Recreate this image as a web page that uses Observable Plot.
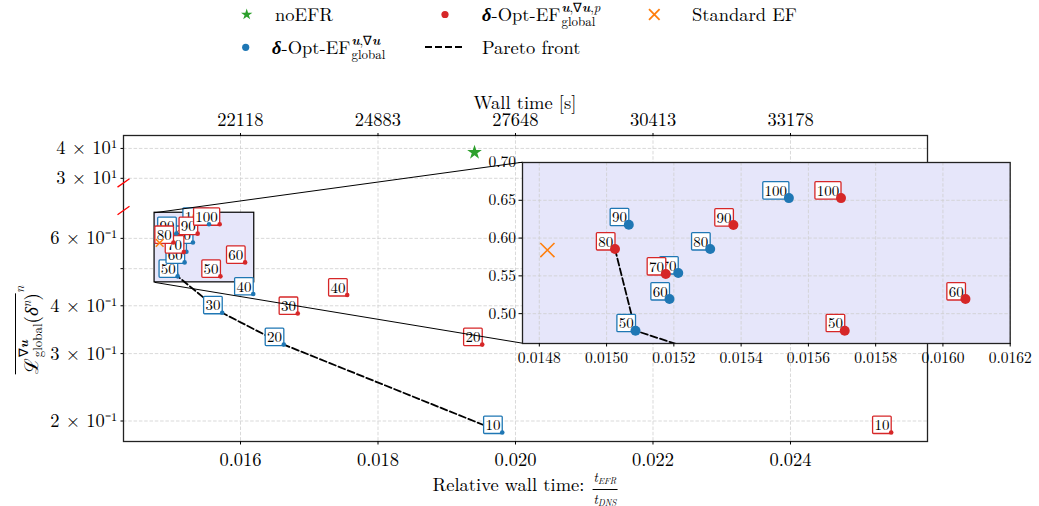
<!DOCTYPE html>
<html><head><meta charset="utf-8">
<script src="https://cdn.jsdelivr.net/npm/d3@7"></script>
<script src="https://cdn.jsdelivr.net/npm/@observablehq/plot@0.6"></script>
<style>
html,body{margin:0;padding:0;background:#fff;}
#wrap{position:relative;width:1039px;height:506px;overflow:hidden;font-family:"Latin Modern Roman","CMU Serif","Liberation Serif",serif;color:#000;}
#wrap > svg{position:absolute;}
.t{position:absolute;white-space:nowrap;line-height:24px;}
.ss{display:inline-flex;flex-direction:column;font-size:13px;line-height:14px;margin:-20px 0 -20px 1px;vertical-align:9.5px;}
.fr{display:inline-flex;flex-direction:column;align-items:center;font-size:13px;line-height:13px;margin:-20px 0 -20px 2px;vertical-align:9px;}
.fr > span:first-child{border-bottom:0.8px solid #000;padding:0 1px 2px 1px;}
.fr > span:last-child{padding-top:2px;}
.fr sub{font-size:9px;vertical-align:-2px;font-style:italic;}
.ov{border-top:1px solid #000;padding-top:1px;}
</style></head>
<body><div id="wrap"></div>
<script>
// ---------------- data ----------------
const labels = [10, 20, 30, 40, 50, 60, 70, 80, 90, 100];
const blueX = [0.019807, 0.016630, 0.015734, 0.016185, 0.015086, 0.015187, 0.015213, 0.015308, 0.015066, 0.015542];
const blueY = [0.1866, 0.3167, 0.3834, 0.4293, 0.4774, 0.5193, 0.5537, 0.5855, 0.6176, 0.6529];
const redX  = [0.025465, 0.019516, 0.016833, 0.017552, 0.015708, 0.016067, 0.015176, 0.015025, 0.015377, 0.015697];
const redY  = [0.1866, 0.3167, 0.3819, 0.4266, 0.4774, 0.5193, 0.5524, 0.5855, 0.6172, 0.6529];
const noEFRx = [0.019404], noEFRy = [38.5];
const stdEFx = [0.014824], stdEFy = [0.5841];
const paretoSeries = ["red", "blue", "blue", "blue", "blue"];
const paretoLabels = [80, 50, 30, 20, 10];
const xTicks = [0.016, 0.018, 0.020, 0.022, 0.024];
const wallTimeTicks = [22118, 24883, 27648, 30413, 33178];
const tDNS = 1382400;
const yTicksLow = [0.2, 0.3, 0.4, 0.6];
const yTickLowLabels = ["2 × 10⁻¹", "3 × 10⁻¹", "4 × 10⁻¹", "6 × 10⁻¹"];
const yTicksHigh = [30, 40];
const yTickHighLabels = ["3 × 10¹", "4 × 10¹"];
const yMinorLow = [0.5];
const mainXDomain = [0.014298, 0.025993];
const lowPanelDomain = [0.1768, 0.7096];
const highPanelDomain = [28.7, 45.3];
const insetXDomain = [0.01475, 0.0162];
const insetYDomain = [0.4605, 0.70];
const insetXTicks = [0.0148, 0.0150, 0.0152, 0.0154, 0.0156, 0.0158, 0.0160, 0.0162];
const insetYTicks = [0.50, 0.55, 0.60, 0.65, 0.70];

// ---------------- layout ----------------
const W = 1039, H = 506;
const frame = {left: 123, right: 927, top: 135, bottom: 441};
const insetBox = {left: 522, right: 1009.7, top: 161.7, bottom: 342.7};
const lowFrac = [0, 0.755], highFrac = [0.845, 1];
const C = {blue: "#1f77b4", red: "#d62728", green: "#2ca02c", orange: "#ff7f0e"};
const FONT = '"Latin Modern Roman","CMU Serif","Liberation Serif",serif';
const LABEL_FS = 15;

// broken log axis: map value -> fraction of the frame height
function fy(v) {
  const [d, f] = v < 5 ? [lowPanelDomain, lowFrac] : [highPanelDomain, highFrac];
  const t = (Math.log10(v) - Math.log10(d[0])) / (Math.log10(d[1]) - Math.log10(d[0]));
  return f[0] + t * (f[1] - f[0]);
}

const blue = labels.map((l, i) => ({label: l, x: blueX[i], v: blueY[i], u: fy(blueY[i])}));
const red = labels.map((l, i) => ({label: l, x: redX[i], v: redY[i], u: fy(redY[i])}));
const series = {blue, red};
const pareto = paretoLabels.map((l, i) => {
  const p = series[paretoSeries[i]].find(d => d.label === l);
  return {x: p.x, v: p.v, u: p.u};
});
const noEFR = noEFRx.map((x, i) => ({x, v: noEFRy[i], u: fy(noEFRy[i])}));
const stdEF = stdEFx.map((x, i) => ({x, v: stdEFy[i], u: fy(stdEFy[i])}));

const xS = Plot.scale({x: {domain: mainXDomain, range: [frame.left, frame.right]}});
const yS = Plot.scale({y: {domain: [0, 1], range: [frame.bottom, frame.top]}});
const zoomRect = [{x1: insetXDomain[0], x2: insetXDomain[1], y1: fy(insetYDomain[0]), y2: fy(insetYDomain[1])}];
const connectors = [
  {x1: insetXDomain[0], y1: fy(insetYDomain[1]), x2: xS.invert(insetBox.left), y2: yS.invert(insetBox.top)},
  {x1: insetXDomain[0], y1: fy(insetYDomain[0]), x2: xS.invert(insetBox.left), y2: yS.invert(insetBox.bottom)}
];
const breakMarks = [lowFrac[1], highFrac[0]].map(u => ({x: mainXDomain[0], u}));
const slash = {draw(ctx) { ctx.moveTo(-6, 4.2); ctx.lineTo(6, -4.2); }};

const yLabelMap = new Map();
yTicksLow.forEach((v, i) => yLabelMap.set(fy(v), yTickLowLabels[i]));
yTicksHigh.forEach((v, i) => yLabelMap.set(fy(v), yTickHighLabels[i]));
const wallMap = new Map(wallTimeTicks.map(w => [w / tDNS, String(w)]));
const gridVals = [...yTicksLow, ...yMinorLow, ...yTicksHigh].map(fy);
const grid = {stroke: "#cfcfcf", strokeWidth: 0.8, strokeDasharray: "3.5,1.8"};
const labelOpts = {text: "label", textAnchor: "end", lineAnchor: "bottom", dx: -1.8, dy: -2.5, fontSize: LABEL_FS, fill: "black"};

const main = Plot.plot({
  width: W, height: H,
  marginLeft: frame.left, marginRight: W - frame.right, marginTop: frame.top, marginBottom: H - frame.bottom,
  style: {fontFamily: FONT, fontSize: "18.5px", background: "transparent", overflow: "visible"},
  x: {domain: mainXDomain},
  y: {domain: [0, 1]},
  marks: [
    Plot.ruleX(xTicks, grid),
    Plot.ruleY(gridVals, grid),
    Plot.rect(zoomRect, {x1: "x1", x2: "x2", y1: "y1", y2: "y2", fill: "lavender", stroke: "black", strokeWidth: 1.2}),
    Plot.line(pareto, {x: "x", y: "u", stroke: "black", strokeWidth: 1.8, strokeDasharray: "7,3"}),
    Plot.text(blue, {x: "x", y: "u", ...labelOpts}),
    Plot.text(red, {x: "x", y: "u", ...labelOpts}),
    Plot.dot(blue, {x: "x", y: "u", r: 2.3, fill: C.blue}),
    Plot.dot(red, {x: "x", y: "u", r: 2.3, fill: C.red}),
    Plot.dot(noEFR, {x: "x", y: "u", symbol: "star", r: 4.6, fill: C.green}),
    Plot.dot(stdEF, {x: "x", y: "u", symbol: "times", r: 3.6, stroke: C.orange, strokeWidth: 1.6}),
    Plot.link(connectors, {x1: "x1", y1: "y1", x2: "x2", y2: "y2", stroke: "black", strokeWidth: 1}),
    Plot.frame({stroke: "#222", strokeWidth: 1.3}),
    Plot.dot(breakMarks, {x: "x", y: "u", symbol: slash, r: 5, stroke: "red", fill: "none", strokeWidth: 1.3}),
    Plot.axisX({ticks: xTicks, tickFormat: d3.format(".3f"), tickSize: 3.5, tickPadding: 8, label: null}),
    Plot.axisX({anchor: "top", ticks: wallTimeTicks.map(w => w / tDNS), tickFormat: d => wallMap.get(d), tickSize: 3, tickPadding: 7, label: null}),
    Plot.axisY({ticks: [...yTicksLow, ...yTicksHigh].map(fy), tickFormat: d => yLabelMap.get(d), tickSize: 2.5, tickPadding: 3.5, label: null}),
    Plot.axisY({ticks: yMinorLow.map(fy), tickFormat: () => "", tickSize: 2.5, label: null})
  ]
});

const inML = 45, inMR = 25.3, inMT = 8, inMB = 30;
const inBlue = blue.filter(d => d.x >= insetXDomain[0] && d.x <= insetXDomain[1] && d.v >= insetYDomain[0] && d.v <= insetYDomain[1]);
const inRed = red.filter(d => d.x >= insetXDomain[0] && d.x <= insetXDomain[1] && d.v >= insetYDomain[0] && d.v <= insetYDomain[1]);
const inset = Plot.plot({
  width: inML + (insetBox.right - insetBox.left) + inMR,
  height: inMT + (insetBox.bottom - insetBox.top) + inMB,
  marginLeft: inML, marginRight: inMR, marginTop: inMT, marginBottom: inMB,
  style: {fontFamily: FONT, fontSize: "15.5px", background: "transparent", overflow: "visible"},
  x: {domain: insetXDomain},
  y: {domain: insetYDomain},
  marks: [
    Plot.frame({fill: "lavender", stroke: "none"}),
    Plot.ruleX(insetXTicks, grid),
    Plot.ruleY(insetYTicks, grid),
    Plot.line(pareto, {x: "x", y: "v", stroke: "black", strokeWidth: 1.8, strokeDasharray: "7,3", clip: true}),
    Plot.text(inBlue, {x: "x", y: "v", ...labelOpts}),
    Plot.text(inRed, {x: "x", y: "v", ...labelOpts}),
    Plot.dot(inBlue, {x: "x", y: "v", r: 5, fill: C.blue}),
    Plot.dot(inRed, {x: "x", y: "v", r: 5, fill: C.red}),
    Plot.dot(stdEF, {x: "x", y: "v", symbol: "times", r: 6.5, stroke: C.orange, strokeWidth: 1.6}),
    Plot.frame({stroke: "#222", strokeWidth: 1.3}),
    Plot.axisX({ticks: insetXTicks, tickFormat: d3.format(".4f"), tickSize: 3.5, tickPadding: 4.5, label: null}),
    Plot.axisY({ticks: insetYTicks, tickFormat: d3.format(".2f"), tickSize: 3.5, tickPadding: 3, label: null})
  ]
});

const wrap = document.getElementById("wrap");
main.style.left = "0px"; main.style.top = "0px";
wrap.appendChild(main);
inset.style.left = (insetBox.left - inML) + "px"; inset.style.top = (insetBox.top - inMT) + "px";
wrap.appendChild(inset);

// white label boxes with coloured edges behind each annotation text
function boxLabels(svg, colors) {
  const groups = [...svg.querySelectorAll('g[aria-label="text"]')];
  groups.forEach((g, gi) => {
    const c = colors[gi];
    if (!c) return;
    [...g.querySelectorAll("text")].forEach(t => {
      const b = t.getBBox();
      let base;
      try { base = t.getStartPositionOfChar(0).y; } catch (e) { base = b.y + b.height * 0.78; }
      const r = document.createElementNS("http://www.w3.org/2000/svg", "rect");
      r.setAttribute("x", b.x - 1.8); r.setAttribute("y", base - 0.93 * LABEL_FS);
      r.setAttribute("width", b.width + 3.6); r.setAttribute("height", 1.16 * LABEL_FS);
      r.setAttribute("fill", "white"); r.setAttribute("stroke", c); r.setAttribute("stroke-width", 1.3);
      r.setAttribute("rx", 1);
      if (t.getAttribute("transform")) r.setAttribute("transform", t.getAttribute("transform"));
      g.insertBefore(r, t);
    });
  });
}
boxLabels(main, [C.blue, C.red]);
boxLabels(inset, [C.blue, C.red]);

// ---------------- text (legend, axis labels) ----------------
function addText(html, left, top, extra) {
  const d = document.createElement("div");
  d.className = "t"; d.innerHTML = html;
  d.style.left = left + "px"; d.style.top = top + "px";
  Object.assign(d.style, extra || {});
  wrap.appendChild(d);
  return d;
}
const bu = '<b><i>u</i></b>';
const dlt = '<b><i>δ</i></b>';
const LG = {fontSize: "18.5px"};
addText('noEFR', 275, 1, LG);
addText(`${dlt}-Opt-EF<span class="ss"><span>${bu},∇${bu}</span><span>global</span></span>`, 272, 34, LG);
addText(`${dlt}-Opt-EF<span class="ss"><span>${bu},∇${bu},<i>p</i></span><span>global</span></span>`, 482, 1, LG);
addText('Pareto front', 482, 34, LG);
addText('Standard EF', 692, 1, LG);
addText('Wall time [s]', (frame.left + frame.right) / 2, 88.5, {fontSize: "18.5px", transform: "translateX(-50%)"});
addText('Relative wall time: <span class="fr"><span><i>t</i><sub>EFR</sub></span><span><i>t</i><sub>DNS</sub></span></span>',
  (frame.left + frame.right) / 2, 471, {fontSize: "18.5px", transform: "translateX(-50%)"});
addText(`<span class="ov">ℒ<span class="ss" style="font-size:13px;vertical-align:10px"><span>∇${bu}</span><span>global</span></span>(<i>δ</i><sup style="font-size:12px"><i>n</i></sup>)</span><sup style="font-size:13px;vertical-align:14px"><i>n</i></sup>`,
  25, 330, {fontSize: "19px", transform: "translate(-50%,-50%) rotate(-90deg)"});

// legend markers
const lg = d3.create("svg").attr("width", W).attr("height", 70).style("left", "0px").style("top", "0px");
lg.append("path").attr("transform", "translate(246.7,14.5)").attr("d", d3.symbol(d3.symbolStar, 40)()).attr("fill", C.green);
lg.append("circle").attr("cx", 245.7).attr("cy", 47.3).attr("r", 3.6).attr("fill", C.blue);
lg.append("circle").attr("cx", 445).attr("cy", 14.5).attr("r", 3.6).attr("fill", C.red);
lg.append("path").attr("transform", "translate(654.3,14.5)").attr("d", d3.symbol(d3.symbolTimes, 75)()).attr("stroke", C.orange).attr("stroke-width", 1.8).attr("fill", "none");
lg.append("line").attr("x1", 425).attr("x2", 465).attr("y1", 47).attr("y2", 47).attr("stroke", "black").attr("stroke-width", 2).attr("stroke-dasharray", "7,3");
wrap.appendChild(lg.node());
</script></body></html>
